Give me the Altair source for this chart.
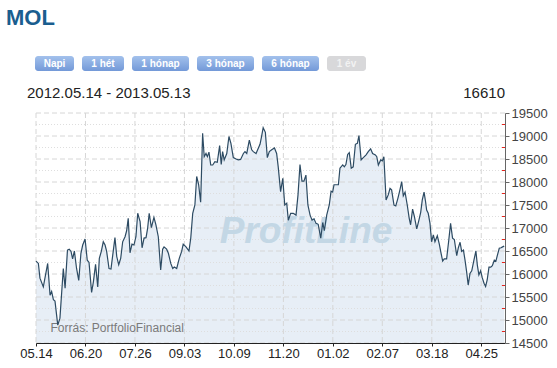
import altair as alt
import pandas as pd

# ---- data (trading-day index, price) ----
idx = [0, 1.2, 2.0, 3.7, 5.9, 7.1, 7.9, 8.8, 9.6, 11.0, 12.1, 13.8, 14.7, 15.9, 16.8, 17.7, 18.5, 19.4,
       20.5, 21.6, 22.7, 23.6, 24.8, 25.9, 26.8, 28.1, 29.0, 30.1, 31.2, 32.0, 33.0, 34.0, 34.9, 35.7,
       36.9, 37.9, 39.1, 39.9, 40.8, 41.8, 42.8, 43.8, 45.0, 45.8, 46.6, 47.5, 48.5, 49.5, 50.5, 51.4,
       52.6, 53.6, 54.6, 55.6, 56.4, 57.2, 58.3, 59.6,
       60.6, 61.8, 63.0, 64.0, 64.7, 66.0, 66.9, 68.1, 69.1, 69.9, 71.1, 72.4, 73.6, 74.4, 75.8, 77.3,
       78.2, 79.2, 80.3, 81.2, 82.2, 83.2, 84.2, 85.0, 85.9, 86.6, 87.4, 88.3, 89.3, 90.4, 91.6, 92.8,
       93.6, 94.3, 95.1, 96.4, 97.5, 98.5, 99.7, 101.1, 102.2, 103.4, 104.8, 105.6, 106.5, 107.8, 109.0,
       109.8, 111.2, 112.0, 113.2, 114.0, 114.8, 115.9, 116.9, 117.9, 119.1, 120.5,
       121.6, 122.4, 123.6, 124.7, 125.7, 126.7, 127.5, 128.7, 130.0, 131.4, 132.4, 133.4, 134.4, 135.4,
       136.4, 137.4, 138.5, 139.5, 140.5, 141.5, 142.6, 143.9, 144.9, 145.7, 146.9, 148.2, 149.1, 149.9,
       150.6, 151.6, 152.8, 153.6, 155.0, 155.8, 156.6, 157.5, 158.3, 159.3, 160.3, 161.4, 162.4, 163.2,
       164.3, 165.4, 166.8, 167.9, 169.1, 170.1, 171.5, 172.2, 173.0, 174.2, 175.0, 175.8, 176.9, 178.0,
       178.9, 179.7, 180.9, 181.8, 182.9, 183.9, 184.8, 185.6, 186.5, 187.6, 188.6, 189.3, 190.3, 191.2,
       192.4, 193.5, 194.4, 195.2, 196.1, 196.9, 197.4, 198.2, 199.1, 199.9, 200.8, 201.6, 202.8, 203.8,
       204.7, 205.5, 206.3, 207.5, 208.5, 209.5, 210.5, 211.4, 212.6, 213.4, 214.3, 215.1, 216.0, 216.8,
       217.6, 218.4, 219.3, 220.2, 221.3, 222.3, 223.0, 223.8, 224.7, 225.5, 226.4, 227.2, 228.0, 228.9,
       229.8, 230.6, 231.6, 232.4, 233.1, 234.1, 235.0, 235.8, 236.6]
val = [16280, 16230, 15910, 15720, 16230, 15540, 15620, 15440, 15410, 14890, 15040, 16120, 15690, 16520,
       16540, 16490, 16330, 16500, 16120, 15860, 16450, 16630, 16760, 16300, 16250, 15600, 15830, 16210,
       15720, 16340, 16490, 16700, 16630, 16490, 16120, 16110, 16520, 16790, 16380, 16200, 16340, 16700,
       16810, 16940, 17210, 16460, 16650, 16630, 16810, 17320, 17140, 16570, 16780, 16790, 16990, 17320,
       17010, 17230,
       17070, 16810, 16090, 16540, 16590, 16540, 16450, 16230, 16120, 16150, 16120, 16340, 16490, 16650,
       16590, 16500, 16780, 17320, 17500, 18120, 17940, 17560, 19060, 18550, 18620, 18550, 18650, 18370,
       18370, 18440, 18430, 18790, 18380, 18660, 18480, 18620, 18990, 18840, 18530, 18500, 18480, 18490,
       18620, 18660, 18620, 18910, 18700, 18660, 18620, 18700, 18820, 18990, 19180, 19080, 18530, 18660,
       18700, 18740,
       18620, 18330, 17790, 18080, 17500, 17540, 17170, 17320, 17320, 17280, 17720, 18380, 18020, 18020,
       18150, 17500, 17280, 17170, 17200, 17100, 17080, 16780, 17120, 16940, 17280, 17500, 17800, 17780,
       17940, 17940, 17940, 18300, 18370, 18330, 18380, 18600, 18640, 18300, 18330, 18820, 18840, 19010,
       18480, 18530, 18590, 18660, 18720, 18620, 18590, 18550, 18370, 18480, 18460, 18550, 17610, 17720,
       17860, 17830, 17500, 17480, 17650, 17830, 18010, 17700, 17780, 17500, 17210, 17070, 17410, 17250,
       16980, 17170, 17340, 17610, 17780, 17560, 17390, 17320, 17100, 16700, 16850, 16700, 16830, 16650,
       16450, 16280, 16330, 16330, 16700, 17100, 16780, 16750, 16400, 16570, 16690, 16490, 16520, 16300,
       16050, 15760, 16010, 16070, 16300, 16500, 16200, 15980, 16070, 15920, 15800, 15730, 15870, 16150,
       16150, 16180, 16300, 16280, 16400, 16560, 16570, 16590, 16610]

tick_idx = [0, 25, 50, 75, 100, 125, 150, 175, 200, 225]
tick_labels = ["05.14", "06.20", "07.26", "09.03", "10.09", "11.20", "01.02", "02.07", "03.18", "04.25"]
y_major = [14500, 15000, 15500, 16000, 16500, 17000, 17500, 18000, 18500, 19000, 19500]
y_minor = [14750, 15250, 15750, 16250, 16750, 17250, 17750, 18250, 18750, 19250]
buttons = ["Napi", "1 hét", "1 hónap", "3 hónap", "6 hónap", "1 év"]
title_text = "MOL"
period_text = "2012.05.14 - 2013.05.13"
last_text = "16610"
source_text = "Forrás: PortfolioFinancial"
watermark = "ProfitLine"

# ---- layout constants ----
W, H = 469, 230
FONT = "Liberation Sans"
btn_x0 = [-1, 46, 96, 161, 226, 291]
btn_x1 = [38, 88, 153, 218, 283, 330]

df = pd.DataFrame({"i": idx, "v": val})
xs = alt.Scale(domain=[0, 237], nice=False, zero=False)
ys = alt.Scale(domain=[14500, 19500], nice=False, zero=False)

label_arr = "[" + ",".join("'%s'" % t for t in tick_labels) + "]"
xaxis = alt.Axis(values=tick_idx, labelExpr=label_arr + "[round(datum.value/25)]", grid=False,
                 domainColor="#222", tickColor="#222", tickSize=3, labelPadding=1,
                 labelFontSize=13, labelColor="#222", labelFont=FONT, title=None,
                 labelFlush=False, labelOverlap=False, zindex=1)
yaxis = alt.Axis(orient="right", values=y_major, grid=False, domainColor="#666", tickColor="#666",
                 tickSize=4, labelPadding=2, labelFontSize=13, labelColor="#444", labelFont=FONT,
                 title=None, format="d", labelFlush=False, labelOverlap=False, zindex=1)

X = lambda f: alt.X(f, scale=xs, axis=xaxis)
Y = lambda f: alt.Y(f, scale=ys, axis=yaxis)

area = alt.Chart(df).mark_area(color="#e7eef6", clip=True).encode(
    x=X("i:Q"), y=Y("v:Q"), y2=alt.datum(14500))

hgrid = alt.Chart(pd.DataFrame({"v": y_major})).mark_rule(
    color="#d6d6d6", strokeDash=[5, 3], strokeWidth=1).encode(
    y=Y("v:Q"), x=alt.value(0), x2=alt.value(W))
mgrid = alt.Chart(pd.DataFrame({"v": y_minor})).mark_rule(
    color="#dedede", strokeDash=[1, 2], strokeWidth=1).encode(
    y=Y("v:Q"), x=alt.value(0), x2=alt.value(W))
vgrid = alt.Chart(pd.DataFrame({"i": tick_idx})).mark_rule(
    color="#d6d6d6", strokeDash=[5, 3], strokeWidth=1).encode(
    x=X("i:Q"), y=alt.value(0), y2=alt.value(H))
red = alt.Chart(pd.DataFrame({"v": y_minor})).mark_rule(color="#e8241c", strokeWidth=1).encode(
    y=Y("v:Q"), x=alt.value(W - 3), x2=alt.value(W))

wm = alt.Chart(pd.DataFrame({"t": [watermark]})).mark_text(
    font=FONT, fontSize=37, fontWeight="bold", fontStyle="italic", color="#c3d7e5",
    align="center", baseline="alphabetic").encode(text="t:N", x=alt.value(270), y=alt.value(130))

src = alt.Chart(pd.DataFrame({"t": [source_text]})).mark_text(
    font=FONT, fontSize=12, color="#7a7a7a", align="left", baseline="alphabetic").encode(
    text="t:N", x=alt.value(14.5), y=alt.value(219))

line = alt.Chart(df).mark_line(color="#2d4b63", strokeWidth=1.2).encode(
    x=X("i:Q"), y=Y("v:Q"))

hdr = pd.DataFrame({"t": [title_text]})
mol = alt.Chart(hdr).mark_text(font=FONT, fontSize=22, fontWeight="bold", color="#1a5e8f",
                               align="left", baseline="alphabetic").encode(
    text="t:N", x=alt.value(-30), y=alt.value(-88))
period = alt.Chart(pd.DataFrame({"t": [period_text]})).mark_text(
    font=FONT, fontSize=15, color="#222", align="left", baseline="alphabetic").encode(
    text="t:N", x=alt.value(-9), y=alt.value(-15))
last = alt.Chart(pd.DataFrame({"t": [last_text]})).mark_text(
    font=FONT, fontSize=15, color="#222", align="right", baseline="alphabetic").encode(
    text="t:N", x=alt.value(W), y=alt.value(-15))

blue_grad = alt.LinearGradient(gradient="linear", x1=0, x2=0, y1=0, y2=1,
                               stops=[alt.GradientStop(color="#a3c1ec", offset=0),
                                      alt.GradientStop(color="#7399d8", offset=1)])
btn_layers = []
for k, name in enumerate(buttons):
    bdf = pd.DataFrame({"t": [name]})
    grey = (k == len(buttons) - 1)
    rect = alt.Chart(bdf).mark_rect(cornerRadius=3, fill="#d8d8da" if grey else blue_grad).encode(
        x=alt.value(btn_x0[k]), x2=alt.value(btn_x1[k]), y=alt.value(-57), y2=alt.value(-42))
    txt = alt.Chart(bdf).mark_text(font=FONT, fontSize=10, fontWeight="bold",
                                   color="#f2f2f2" if grey else "white",
                                   align="center", baseline="middle").encode(
        text="t:N", x=alt.value((btn_x0[k] + btn_x1[k]) / 2), y=alt.value(-49.5))
    btn_layers += [rect, txt]

chart = alt.layer(area, mgrid, hgrid, vgrid, wm, src, line, red, mol, period, last, *btn_layers).properties(
    width=W, height=H,
    autosize=alt.AutoSizeParams(type="none"),
    padding={"left": 36, "top": 113, "right": 52, "bottom": 25},
    background="white",
).configure_view(stroke=None)

chart.save("out.html", embed_options={"renderer": "svg", "actions": False})
